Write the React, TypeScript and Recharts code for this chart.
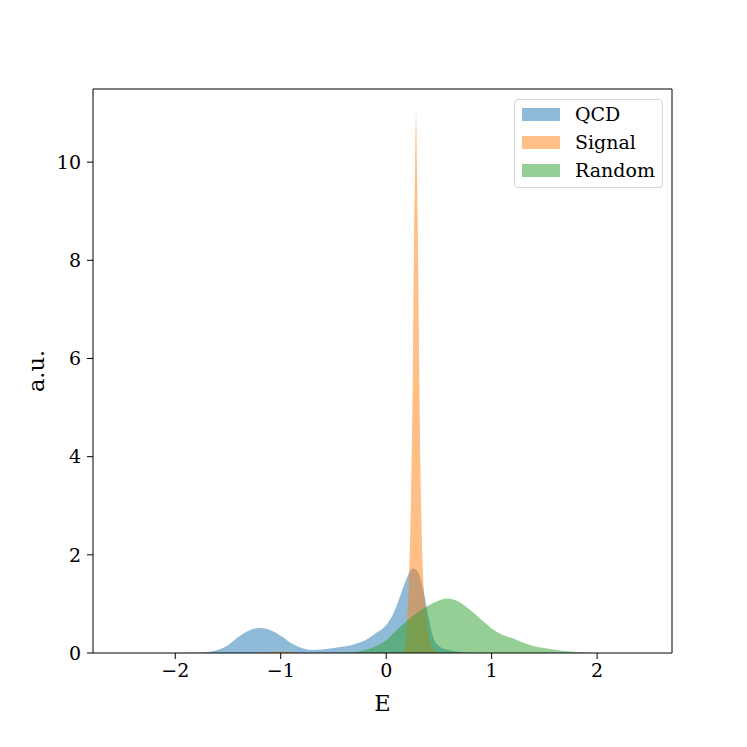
import React from 'react';
import { ComposedChart, Area, XAxis, YAxis, Legend, Label, ReferenceLine } from 'recharts';

const qcdE = [-2.0, -1.9, -1.8, -1.7, -1.6, -1.5, -1.4, -1.3, -1.2, -1.1, -1.0, -0.9, -0.8, -0.7, -0.6, -0.5, -0.4, -0.3, -0.2, -0.1, 0.0, 0.05, 0.1, 0.15, 0.2, 0.25, 0.3, 0.35, 0.4, 0.45, 0.5, 0.6, 0.7, 0.8, 0.9];
const qcdY = [0, 0.003, 0.008, 0.02, 0.06, 0.16, 0.33, 0.46, 0.51, 0.47, 0.35, 0.2, 0.1, 0.06, 0.07, 0.1, 0.13, 0.18, 0.26, 0.4, 0.57, 0.73, 0.97, 1.27, 1.55, 1.72, 1.65, 1.3, 0.75, 0.3, 0.14, 0.06, 0.02, 0.005, 0];

const signalE = [-1.25, -1.1, -1.0, -0.9, -0.8, 0.1, 0.16, 0.18, 0.2, 0.22, 0.235, 0.253, 0.265, 0.275, 0.283, 0.291, 0.3, 0.313, 0.33, 0.346, 0.36, 0.38, 0.4, 0.43, 0.46, 0.5];
const signalY = [0, 0.02, 0.03, 0.02, 0, 0, 0.02, 0.15, 0.74, 1.76, 3.12, 5.83, 8.55, 10.0, 11.0, 10.0, 8.55, 5.83, 3.12, 1.76, 1.2, 0.74, 0.42, 0.15, 0.05, 0];

const randomE = [-0.4, -0.3, -0.2, -0.1, 0.0, 0.1, 0.2, 0.3, 0.4, 0.5, 0.57, 0.65, 0.7, 0.8, 0.9, 1.0, 1.1, 1.2, 1.3, 1.4, 1.5, 1.6, 1.7, 1.8, 1.9, 2.0];
const randomY = [0, 0.02, 0.06, 0.13, 0.26, 0.47, 0.66, 0.83, 0.97, 1.07, 1.11, 1.08, 1.03, 0.87, 0.68, 0.5, 0.37, 0.3, 0.21, 0.14, 0.1, 0.065, 0.04, 0.02, 0.01, 0];

const seriesNames = ['QCD', 'Signal', 'Random'];
const seriesColors = ['#1f77b4', '#ff7f0e', '#2ca02c'];
const xTicks = [-2, -1, 0, 1, 2];
const yTicks = [0, 2, 4, 6, 8, 10];
const xDomain = [-2.78, 2.71];
const yDomain = [0, 11.49];

const FONT = '"DejaVu Serif", serif';

function buildTable() {
  const map = new Map<string, any>();
  const add = (es: number[], ys: number[], key: string) => {
    es.forEach((e, i) => {
      const k = e.toFixed(4);
      if (!map.has(k)) map.set(k, { E: e });
      map.get(k)[key] = ys[i];
    });
  };
  add(qcdE, qcdY, 'QCD');
  add(signalE, signalY, 'Signal');
  add(randomE, randomY, 'Random');
  return Array.from(map.values()).sort((a, b) => a.E - b.E);
}

const data = buildTable();

const fmt = (v: number) => (v < 0 ? '\u2212' + Math.abs(v) : String(v));

const renderLegend = () => (
  <div
    style={{
      position: 'relative',
      width: 147,
      height: 87,
      border: '1px solid #d6d6d6',
      borderRadius: 4,
      background: 'rgba(255,255,255,0.8)',
      fontFamily: FONT,
      fontSize: 19,
      color: '#000',
    }}
  >
    {seriesNames.map((n, i) => (
      <div key={n}>
        <div
          style={{
            position: 'absolute',
            left: 7,
            top: 8 + i * 28,
            width: 38,
            height: 13,
            background: seriesColors[i],
            opacity: 0.5,
          }}
        />
        <div
          style={{
            position: 'absolute',
            left: 60,
            top: 3 + i * 28,
            lineHeight: '22px',
            whiteSpace: 'nowrap',
          }}
        >
          {n}
        </div>
      </div>
    ))}
  </div>
);

export default function App() {
  return (
    <div style={{ position: 'absolute', left: 0, top: 0, width: 747, height: 747, background: '#fff' }}>
      <ComposedChart
        width={747}
        height={747}
        data={data}
        margin={{ top: 89, right: 75, bottom: 0, left: 0 }}
      >
        <XAxis
          dataKey="E"
          type="number"
          domain={xDomain}
          allowDataOverflow
          ticks={xTicks}
          tickFormatter={fmt}
          height={94}
          stroke="#000"
          tickSize={6}
          tickMargin={5}
          tick={{ fill: '#000', fontSize: 19, fontFamily: FONT }}
          axisLine={{ stroke: '#000' }}
          tickLine={{ stroke: '#000' }}
          interval={0}
        >
          <Label
            content={() => (
              <text x={382.5} y={711} textAnchor="middle" fontSize={22.5} fontFamily={FONT} fill="#000">
                E
              </text>
            )}
          />
        </XAxis>
        <YAxis
          type="number"
          domain={yDomain}
          allowDataOverflow
          ticks={yTicks}
          width={93}
          stroke="#000"
          tickSize={6}
          tickMargin={6}
          tick={{ fill: '#000', fontSize: 19, fontFamily: FONT }}
          axisLine={{ stroke: '#000' }}
          tickLine={{ stroke: '#000' }}
          interval={0}
        >
          <Label
            content={() => (
              <text
                x={44}
                y={371}
                transform="rotate(-90 44 371)"
                textAnchor="middle"
                fontSize={22.5}
                fontFamily={FONT}
                fill="#000"
              >
                a.u.
              </text>
            )}
          />
        </YAxis>
        {seriesNames.map((n, i) => (
          <Area
            key={n}
            dataKey={n}
            type="monotone"
            connectNulls
            stroke="none"
            fill={seriesColors[i]}
            fillOpacity={0.5}
            isAnimationActive={false}
            dot={false}
            activeDot={false}
          />
        ))}
        <ReferenceLine y={yDomain[1]} stroke="#000" strokeWidth={1} ifOverflow="visible" />
        <ReferenceLine x={xDomain[1]} stroke="#000" strokeWidth={1} ifOverflow="visible" />
        <Legend
          layout="vertical"
          align="center"
          verticalAlign="middle"
          content={renderLegend}
          wrapperStyle={{ position: 'absolute', left: 514, top: 99, width: 149, height: 89 }}
        />
      </ComposedChart>
    </div>
  );
}
